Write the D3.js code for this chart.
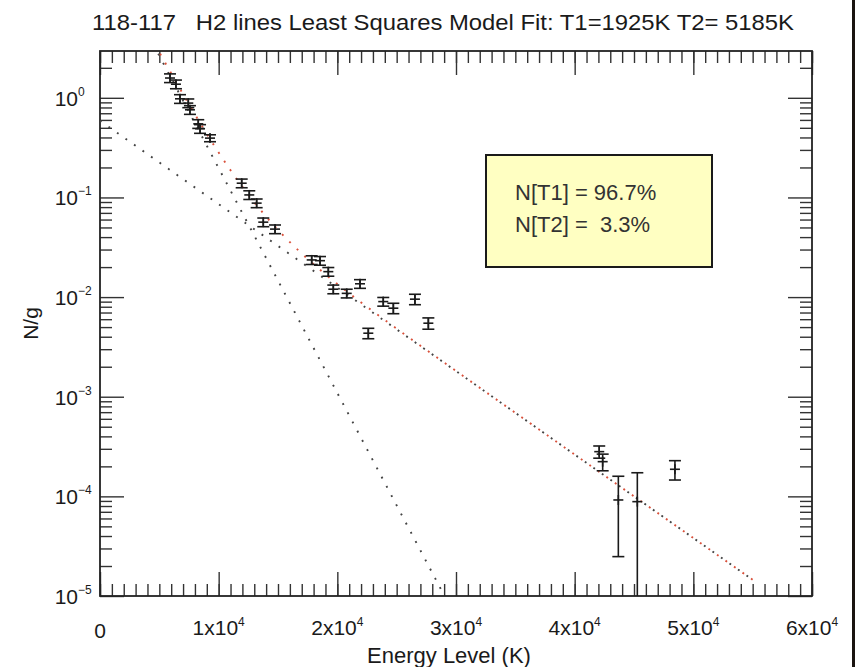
<!DOCTYPE html>
<html>
<head>
<meta charset="utf-8">
<script src="https://cdn.jsdelivr.net/npm/d3@7"></script>
<style>
  body { margin: 0; background: #fff; }
  svg { display: block; font-family: "Liberation Sans", Arial, Helvetica, sans-serif; }
</style>
</head>
<body>
<div id="chart"></div>
<script>
// ---- data ----
const energy = [5900, 6400, 6740, 7440, 7580, 8280, 8430, 9270, 11940, 12580, 13200, 13760, 14750,
  17840, 18540, 19240, 19660, 20790, 21910, 22610, 23870, 24720, 26540, 27670,
  42070, 42360, 43680, 45280, 48450]
const ng = [1.58, 1.37, 0.977, 0.885, 0.758, 0.548, 0.489, 0.394, 0.139, 0.106, 0.0877, 0.0565, 0.0481,
  0.0236, 0.0232, 0.0180, 0.0120, 0.0109, 0.0136, 0.00434, 0.00901, 0.00774, 0.00953, 0.00547,
  2.81e-4, 2.23e-4, 9.2e-5, 8.85e-5, 1.87e-4]
// relative 1-sigma error
const relErr = [0.1, 0.1, 0.1, 0.1, 0.1, 0.1, 0.1, 0.08, 0.1, 0.1, 0.1, 0.1, 0.1,
  0.1, 0.1, 0.1, 0.1, 0.1, 0.1, 0.12, 0.1, 0.12, 0.12, 0.13,
  0.14, 0.19, 0.73, 0.95, 0.22]

// model lines
const t1E = [0, 29000], t1Val = [35.5, 1.016e-5]
const t2E = [0, 55000], t2Val = [0.589, 1.456e-5]
const sumE = [4000, 5000, 6000, 7000, 8000, 9000, 10000, 11000, 12000, 13000, 14000, 15000, 16000,
  17000, 18000, 20000, 22000, 25000, 30000, 40000, 55000]
const sumVal = [4.714, 2.866, 1.756, 1.0875, 0.6818, 0.4345, 0.2823, 0.1876, 0.12784, 0.08941, 0.06421,
  0.04729, 0.03562, 0.02737, 0.02138, 0.01353, 0.008844, 0.004823, 0.001815, 0.0002628, 0.00001456]

const xTicks = [0, 10000, 20000, 30000, 40000, 50000, 60000]
const xTickLabels = ["0", "1x10|4", "2x10|4", "3x10|4", "4x10|4", "5x10|4", "6x10|4"]
const yTicks = [1, 0.1, 0.01, 0.001, 1e-4, 1e-5]
const yTickExp = ["0", "\u22121", "\u22122", "\u22123", "\u22124", "\u22125"]

const titleText = "118-117   H2 lines Least Squares Model Fit: T1=1925K T2= 5185K"
const legendLines = ["N[T1] = 96.7%", "N[T2] =  3.3%"]

// ---- layout ----
const W = 855, H = 667
const pLeft = 100, pRight = 812, pTop = 51, pBottom = 596

const svg = d3.select("#chart").append("svg")
  .attr("width", W).attr("height", H)

const x = d3.scaleLinear().domain([0, 60000]).range([pLeft, pRight])
const y = d3.scaleLog().domain([1e-5, 2.95]).range([pBottom, pTop])

svg.append("defs").append("clipPath").attr("id", "plotclip")
  .append("rect").attr("x", pLeft).attr("y", pTop)
  .attr("width", pRight - pLeft).attr("height", pBottom - pTop)

// minor ticks
let xMinor = d3.range(0, 60001, 1000)
let yMinor = []
for (let e = -5; e <= 0; e++) {
  for (let k = 2; k <= 9; k++) {
    let v = k * Math.pow(10, e)
    if (v < 2.95) yMinor.push(v)
  }
}

const tickColor = "#333"
const addAxis = (axis, tx, ty) => {
  let g = svg.append("g").attr("transform", "translate(" + tx + "," + ty + ")").call(axis)
  g.select(".domain").remove()
  g.selectAll("line").attr("stroke", tickColor).attr("stroke-width", 1.4)
  g.selectAll("text").remove()
}

addAxis(d3.axisBottom(x).tickValues(xMinor).tickSize(-12), 0, pBottom)
addAxis(d3.axisBottom(x).tickValues(xTicks).tickSize(-24), 0, pBottom)
addAxis(d3.axisTop(x).tickValues(xMinor).tickSize(-12), 0, pTop)
addAxis(d3.axisTop(x).tickValues(xTicks).tickSize(-24), 0, pTop)
addAxis(d3.axisLeft(y).tickValues(yMinor).tickSize(-12), pLeft, 0)
addAxis(d3.axisLeft(y).tickValues(yTicks).tickSize(-24), pLeft, 0)
addAxis(d3.axisRight(y).tickValues(yMinor).tickSize(-12), pRight, 0)
addAxis(d3.axisRight(y).tickValues(yTicks).tickSize(-24), pRight, 0)

// frame
svg.append("rect")
  .attr("x", pLeft).attr("y", pTop)
  .attr("width", pRight - pLeft).attr("height", pBottom - pTop)
  .attr("fill", "none").attr("stroke", "#222").attr("stroke-width", 1.8)

// model lines
const plot = svg.append("g").attr("clip-path", "url(#plotclip)")
const line = d3.line().x(d => x(d[0])).y(d => y(d[1]))

plot.append("path")
  .datum(t1E.map((e, i) => [e, t1Val[i]]))
  .attr("d", line)
  .attr("fill", "none").attr("stroke", "#444").attr("stroke-width", 1.9)
  .attr("stroke-dasharray", "1.9,8.5")

plot.append("path")
  .datum(t2E.map((e, i) => [e, t2Val[i]]))
  .attr("d", line)
  .attr("fill", "none").attr("stroke", "#444").attr("stroke-width", 1.9)
  .attr("stroke-dasharray", "1.9,8.5")

plot.append("path")
  .datum(sumE.map((e, i) => [e, sumVal[i]]))
  .attr("d", line.curve(d3.curveMonotoneX))
  .attr("fill", "none").attr("stroke", "#d9503a").attr("stroke-width", 1.9)
  .attr("stroke-dasharray", "1.9,8.5").attr("stroke-dashoffset", 5)

// data points with error bars
let pts = energy.map((e, i) => ({
  e: e, v: ng[i],
  lo: Math.max(ng[i] * (1 - relErr[i]), 1e-7),
  hi: ng[i] * (1 + relErr[i])
}))

let pg = plot.selectAll("g.pt").data(pts).enter().append("g").attr("class", "pt")
  .attr("stroke", "#1a1a1a").attr("stroke-width", 1.6)

pg.append("line")
  .attr("x1", d => x(d.e)).attr("x2", d => x(d.e))
  .attr("y1", d => y(d.lo)).attr("y2", d => y(d.hi))
pg.append("line")
  .attr("x1", d => x(d.e) - 6).attr("x2", d => x(d.e) + 6)
  .attr("y1", d => y(d.hi)).attr("y2", d => y(d.hi))
pg.append("line")
  .attr("x1", d => x(d.e) - 6).attr("x2", d => x(d.e) + 6)
  .attr("y1", d => y(d.lo)).attr("y2", d => y(d.lo))
pg.append("line")
  .attr("x1", d => x(d.e) - 5).attr("x2", d => x(d.e) + 5)
  .attr("y1", d => y(d.v)).attr("y2", d => y(d.v))
pg.append("line")
  .attr("x1", d => x(d.e)).attr("x2", d => x(d.e))
  .attr("y1", d => y(d.v) - 5).attr("y2", d => y(d.v) + 5)

// tick labels
const textColor = "#1a1a1a"
svg.selectAll("text.ylab").data(yTicks).enter().append("text")
  .attr("class", "ylab")
  .attr("x", 78).attr("y", d => y(d) + 8)
  .attr("text-anchor", "end")
  .attr("font-size", 21).attr("fill", textColor)
  .text("10")
svg.selectAll("text.yexp").data(yTicks).enter().append("text")
  .attr("class", "yexp")
  .attr("x", 78).attr("y", d => y(d) - 2)
  .attr("font-size", 12).attr("fill", textColor)
  .text((d, i) => yTickExp[i])

svg.selectAll("text.xlab").data(xTicks).enter().append("text")
  .attr("class", "xlab")
  .attr("x", d => x(d)).attr("y", (d, i) => i === 0 ? 638 : 635)
  .attr("text-anchor", "middle")
  .attr("font-size", 21).attr("fill", textColor)
  .each(function (d, i) {
    let parts = xTickLabels[i].split("|")
    let t = d3.select(this)
    t.append("tspan").text(parts[0])
    if (parts[1]) {
      t.append("tspan").attr("dy", -9).attr("font-size", 12).text(parts[1])
    }
  })

// titles
svg.append("text")
  .attr("x", 443).attr("y", 30)
  .attr("text-anchor", "middle")
  .attr("font-size", 22).attr("fill", textColor)
  .attr("textLength", 702).attr("lengthAdjust", "spacingAndGlyphs")
  .style("white-space", "pre")
  .text(titleText)

svg.append("text")
  .attr("x", 449).attr("y", 663)
  .attr("text-anchor", "middle")
  .attr("font-size", 22).attr("fill", textColor)
  .text("Energy Level (K)")

svg.append("text")
  .attr("transform", "translate(38," + ((pTop + pBottom) / 2) + ") rotate(-90)")
  .attr("text-anchor", "middle")
  .attr("font-size", 21).attr("fill", textColor)
  .text("N/g")

// legend box
svg.append("rect")
  .attr("x", 486).attr("y", 155).attr("width", 226).attr("height", 112)
  .attr("fill", "#ffffc2").attr("stroke", "#1a1a1a").attr("stroke-width", 2)

svg.selectAll("text.leg").data(legendLines).enter().append("text")
  .attr("class", "leg")
  .attr("x", 515).attr("y", (d, i) => 200 + i * 32)
  .attr("font-size", 22).attr("fill", "#333")
  .style("white-space", "pre")
  .text(d => d)

// dark strip on the right edge
svg.append("rect").attr("x", 852).attr("y", 0).attr("width", 3).attr("height", H).attr("fill", "#1a1410")
</script>
</body>
</html>
